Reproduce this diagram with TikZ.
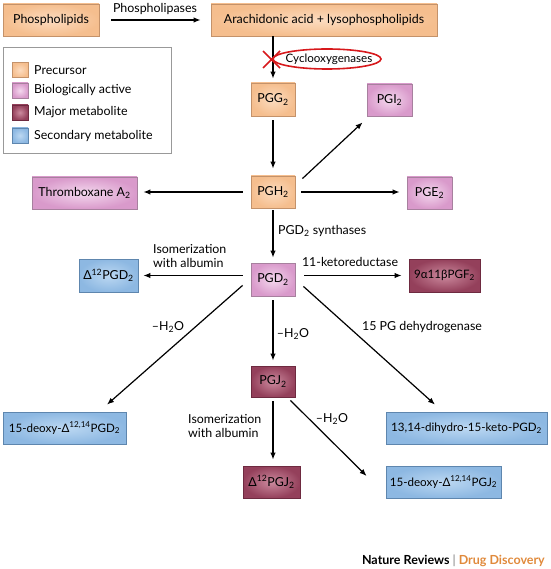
\documentclass[tikz,border=0pt]{standalone}
\usepackage{fontspec}
\setmainfont{Lato}
\usetikzlibrary{arrows.meta,calc}
\definecolor{preO}{HTML}{F5BE8E}
\definecolor{preI}{HTML}{FCDCC0}
\definecolor{preB}{HTML}{C4926A}
\definecolor{bioO}{HTML}{D99ACB}
\definecolor{bioI}{HTML}{F4D8EE}
\definecolor{bioB}{HTML}{A7809E}
\definecolor{majO}{HTML}{94405B}
\definecolor{majI}{HTML}{CC8A9E}
\definecolor{majB}{HTML}{6E2A40}
\definecolor{secO}{HTML}{8DB8E2}
\definecolor{secI}{HTML}{BCD8F2}
\definecolor{secB}{HTML}{5E86AE}
\definecolor{coxred}{HTML}{D7191C}
\definecolor{footO}{HTML}{E08A3C}
\begin{document}
\begin{tikzpicture}[x=1pt,y=-1pt,
  txt/.style={font=\fontsize{12.4}{14.5}\selectfont},
  small/.style={font=\fontsize{11.6}{13.5}\selectfont},
  box/.style={txt, draw, line width=0.8pt, minimum height=32pt, inner sep=0pt},
  pre/.style={box, draw=preB, inner color=preI, outer color=preO},
  bio/.style={box, draw=bioB, inner color=bioI, outer color=bioO},
  maj/.style={box, draw=majB, inner color=majI, outer color=majO},
  sec/.style={box, draw=secB, inner color=secI, outer color=secO},
  swatch/.style={draw, line width=0.6pt, minimum width=16pt, minimum height=15pt, inner sep=0pt},
  arr/.style={-{Latex[length=7pt,width=5.5pt]}, line width=1.2pt},
  lab/.style={txt, inner sep=0pt}]
\useasboundingbox (0,0) rectangle (550,569);

% boxes
\node[pre, minimum width=96pt] (phos) at (51,20) {Phospholipids};
\node[pre, minimum width=226pt] (arach) at (324,20) {Arachidonic acid + lysophospholipids};
\node[pre, minimum width=44pt, minimum height=33pt] (pgg) at (273,99.5) {PGG\textsubscript{2}};
\node[bio, minimum width=45pt] (pgi) at (389.5,100) {PGI\textsubscript{2}};
\node[pre, minimum width=44pt] (pgh) at (273,192) {PGH\textsubscript{2}};
\node[bio, minimum width=105pt] (txa) at (84.5,193) {Thromboxane A\textsubscript{2}};
\node[bio, minimum width=45pt] (pge) at (429.5,193) {PGE\textsubscript{2}};
\node[bio, minimum width=44pt, minimum height=33pt] (pgd) at (273,279.5) {PGD\textsubscript{2}};
\node[sec, minimum width=59pt, minimum height=33pt] (dpgd) at (108.5,275.5) {Δ\textsuperscript{12}PGD\textsubscript{2}};
\node[maj, small, minimum width=71pt, minimum height=33pt] (pgf) at (444.5,275.5) {9α11βPGF\textsubscript{2}};
\node[maj, minimum width=44pt, minimum height=31pt] (pgj) at (273,381.5) {PGJ\textsubscript{2}};
\node[sec, small, minimum width=123pt] (deoxyd) at (64.5,428) {15-deoxy-Δ\textsuperscript{12,14}PGD\textsubscript{2}};
\node[sec, small, minimum width=161pt] (dihydro) at (466.5,428) {13,14-dihydro-15-keto-PGD\textsubscript{2}};
\node[maj, minimum width=57pt] (dpgj) at (271.5,482) {Δ\textsuperscript{12}PGJ\textsubscript{2}};
\node[sec, small, minimum width=115pt] (deoxyj) at (443.5,482) {15-deoxy-Δ\textsuperscript{12,14}PGJ\textsubscript{2}};

% legend
\node[draw=black!40, line width=0.8pt, minimum width=168pt, minimum height=106pt, inner sep=0pt] (legend) at (87,100) {};
\node[swatch, draw=preB, inner color=preI, outer color=preO] (s1) at (20,70) {};
\node[swatch, draw=bioB, inner color=bioI, outer color=bioO] (s2) at (20,90.5) {};
\node[swatch, draw=majB, inner color=majI, outer color=majO] (s3) at (20,112.5) {};
\node[swatch, draw=secB, inner color=secI, outer color=secO] (s4) at (20,135.5) {};
\node[lab, anchor=west] (l1) at (34,70) {Precursor};
\node[lab, anchor=west] (l2) at (34,90.5) {Biologically active};
\node[lab, anchor=west] (l3) at (34,112.5) {Major metabolite};
\node[lab, anchor=west] (l4) at (34,135.5) {Secondary metabolite};

% labels
\node[lab] (plase) at (155,9.5) {Phospholipases};
\node[lab, small] (cox) at (329,59) {Cyclooxygenases};
\node[lab, anchor=west] (pgds) at (278,231) {PGD\textsubscript{2} synthases};
\node[lab, align=left, anchor=west] (iso1) at (153,256) {Isomerization\\with albumin};
\node[lab] (ketor) at (350,262) {11-ketoreductase};
\node[lab] (h2oa) at (168,327) {–H\textsubscript{2}O};
\node[lab] (h2ob) at (293,334) {–H\textsubscript{2}O};
\node[lab] (pgdh) at (422,327) {15 PG dehydrogenase};
\node[lab, align=left, anchor=west] (iso2) at (188,426) {Isomerization\\with albumin};
\node[lab] (h2oc) at (332,419) {–H\textsubscript{2}O};
\node[anchor=east, inner sep=0pt, font=\bfseries\fontsize{12.5}{14}\selectfont] (foot) at (545,561)
  {Nature Reviews {\color{black!50}\mdseries|} \textcolor{footO}{Drug Discovery}};

% connectors
\draw[arr, shorten <=12pt, shorten >=10pt] (phos.east) -- (phos.east -| arach.west);
\draw[arr, shorten >=4pt] (arach.south -| pgg.north) -- (pgg.north);
\draw[arr, shorten <=4pt, shorten >=7pt] (pgg) -- (pgh);
\draw[arr] ($(pgh.north east)+(7,3)$) -- ($(pgi.south west)+(-4,6)$);
\draw[arr, shorten <=8pt, shorten >=6pt] (pgh.west) -- (pgh.west -| txa.east);
\draw[arr, shorten <=6pt, shorten >=7pt] (pgh.east) -- (pgh.east -| pge.west);
\draw[arr, shorten <=2pt, shorten >=5pt] (pgh) -- (pgd);
\draw[arr, shorten <=8pt, shorten >=5pt] (pgd.west |- dpgd.east) -- (dpgd.east);
\draw[arr, shorten <=9pt, shorten >=7pt] (pgd.east |- pgf.west) -- (pgf.west);
\draw[arr] ($(pgd.south west)+(-8,-11)$) -- ($(deoxyd.north)+(42.5,-7)$);
\draw[arr, shorten <=4pt, shorten >=5pt] (pgd) -- (pgj);
\draw[arr] ($(pgd.south east)+(8,-10)$) -- ($(dihydro.north)+(-31.5,-7)$);
\draw[arr, shorten <=4pt, shorten >=6pt] (pgj) -- (dpgj.north -| pgj.south);
\draw[arr] ($(pgj.south east)+(-5,3)$) -- ($(deoxyj.west)+(-19,-6)$);

% cyclooxygenase inhibition marks
\draw[coxred, line width=1.6pt] (cox.center)+(-2,0) ellipse [x radius=54, y radius=10];
\draw[coxred, line width=1.6pt] (263,51) -- (280,68) (263,68) -- (280,51);
\end{tikzpicture}
\end{document}
